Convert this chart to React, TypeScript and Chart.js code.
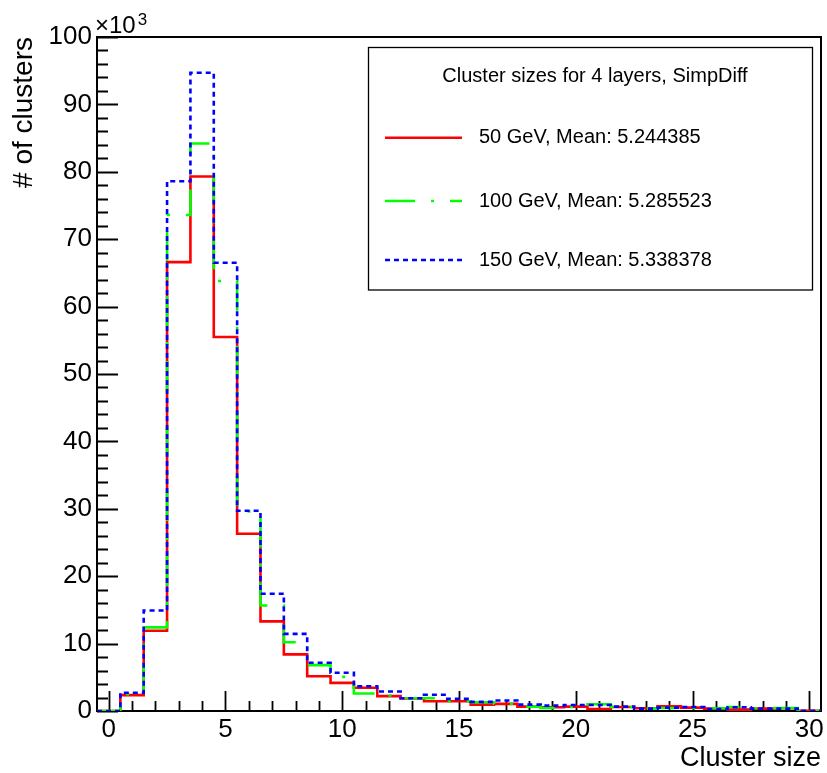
import React, { useEffect, useRef } from 'react';
import { Chart, registerables } from 'chart.js';

Chart.register(...registerables);

// Bin centres (cluster size), bins of width 1
const BIN_CENTERS = [0, 1, 2, 3, 4, 5, 6, 7, 8, 9, 10, 11, 12, 13, 14, 15, 16, 17, 18, 19, 20, 21, 22, 23, 24, 25, 26, 27, 28, 29, 30];
// counts in units of 10^3
const SERIES_50 = [0, 2.35, 11.9, 66.6, 79.3, 55.5, 26.3, 13.3, 8.4, 5.16, 4.18, 3.44, 2.2, 1.85, 1.45, 1.45, 0.95, 1.05, 0.65, 0.55, 0.65, 0.3, 0.6, 0.4, 0.7, 0.5, 0.35, 0.2, 0.35, 0.4, 0.03];
const SERIES_100 = [0, 2.5, 12.4, 73.6, 84.2, 63.8, 29.6, 15.65, 10.2, 6.8, 5.07, 2.6, 2.3, 1.9, 1.9, 1.45, 1.3, 1.05, 0.65, 0.45, 0.6, 1.0, 0.6, 0.35, 0.45, 0.45, 0.4, 0.6, 0.4, 0.45, 0.03];
const SERIES_150 = [0, 2.7, 14.9, 78.6, 94.7, 66.5, 29.7, 17.4, 11.45, 7.15, 5.67, 3.68, 2.9, 1.9, 2.4, 1.8, 1.35, 1.55, 0.95, 0.8, 0.9, 0.9, 0.65, 0.35, 0.5, 0.6, 0.3, 0.55, 0.35, 0.35, 0.03];

const SERIES_LABELS = ['50 GeV, Mean: 5.244385', '100 GeV, Mean: 5.285523', '150 GeV, Mean: 5.338378'];
const LEGEND_TITLE = 'Cluster sizes for 4 layers, SimpDiff';
const X_TITLE = 'Cluster size';
const Y_TITLE = '# of clusters';
const Y_EXPONENT_BASE = '\u00d710';
const Y_EXPONENT = '3';

const X_TICKS = [0, 5, 10, 15, 20, 25, 30];
const Y_TICKS = [0, 10, 20, 30, 40, 50, 60, 70, 80, 90, 100];
const X_MINOR_STEP = 1;
const Y_MINOR_STEP = 2;
const X_RANGE = [-0.5, 30.5];
const Y_RANGE = [0, 100];

const FONT = '"Liberation Sans", Arial, Helvetica, sans-serif';

function histPoints(values: number[]) {
  const pts = values.map((v, i) => ({ x: BIN_CENTERS[i] - 0.5, y: v }));
  const last = values.length - 1;
  pts.push({ x: BIN_CENTERS[last] + 0.5, y: values[last] });
  return pts;
}

const rootFrame = {
  id: 'rootFrame',
  beforeDatasetsDraw(chart: any) {
    const { ctx, chartArea: a, scales } = chart;
    const x = scales.x;
    const y = scales.y;
    ctx.save();
    ctx.strokeStyle = '#000';
    ctx.lineWidth = 2;
    ctx.strokeRect(a.left, a.top, a.right - a.left, a.bottom - a.top);
    ctx.lineWidth = 1.8;
    ctx.beginPath();
    for (let v = X_TICKS[0]; v <= X_TICKS[X_TICKS.length - 1] + 1e-9; v += X_MINOR_STEP) {
      const px = Math.round(x.getPixelForValue(v)) + 0.5;
      const len = X_TICKS.includes(v) ? 20 : 10;
      ctx.moveTo(px, a.bottom);
      ctx.lineTo(px, a.bottom - len);
    }
    for (let v = Y_TICKS[0]; v <= Y_TICKS[Y_TICKS.length - 1] + 1e-9; v += Y_MINOR_STEP) {
      const py = Math.round(y.getPixelForValue(v)) + 0.5;
      const len = Y_TICKS.includes(v) ? 21 : 11;
      ctx.moveTo(a.left, py);
      ctx.lineTo(a.left + len, py);
    }
    ctx.stroke();
    // exponent label
    ctx.fillStyle = '#000';
    ctx.textBaseline = 'alphabetic';
    ctx.textAlign = 'left';
    ctx.font = `24px ${FONT}`;
    ctx.fillText(Y_EXPONENT_BASE, a.left - 2, 33);
    const w = ctx.measureText(Y_EXPONENT_BASE).width;
    ctx.font = `17px ${FONT}`;
    ctx.fillText(Y_EXPONENT, a.left - 2 + w + 2, 25);
    ctx.restore();
  },
  afterDraw(chart: any) {
    const { ctx } = chart;
    ctx.save();
    // legend box
    const bx = 368.5, by = 47.5, bw = 444, bh = 242.5;
    ctx.fillStyle = '#fff';
    ctx.fillRect(bx, by, bw, bh);
    ctx.strokeStyle = '#000';
    ctx.lineWidth = 1.3;
    ctx.strokeRect(bx, by, bw, bh);
    ctx.fillStyle = '#000';
    ctx.textBaseline = 'middle';
    ctx.textAlign = 'center';
    ctx.font = `20px ${FONT}`;
    ctx.fillText(LEGEND_TITLE, 595, 76.5);
    const rows = [137.7, 201, 260];
    chart.data.datasets.forEach((ds: any, i: number) => {
      const yy = rows[i];
      ctx.save();
      ctx.strokeStyle = ds.borderColor;
      ctx.lineWidth = ds.borderWidth;
      ctx.setLineDash(ds.borderDash || []);
      ctx.beginPath();
      ctx.moveTo(385, yy);
      ctx.lineTo(462, yy);
      ctx.stroke();
      ctx.restore();
      ctx.textAlign = 'left';
      ctx.font = `20px ${FONT}`;
      ctx.fillText(ds.label, 479, yy);
    });
    ctx.restore();
  },
};

export default function App() {
  const ref = useRef<HTMLCanvasElement | null>(null);
  useEffect(() => {
    if (!ref.current) return;
    const chart = new Chart(ref.current, {
      type: 'line',
      data: {
        datasets: [
          {
            label: SERIES_LABELS[0],
            data: histPoints(SERIES_50),
            borderColor: 'rgb(255,0,0)',
            borderWidth: 2.6,
            borderDash: [],
            stepped: 'before',
            pointRadius: 0,
            fill: false,
            order: 2,
          },
          {
            label: SERIES_LABELS[1],
            data: histPoints(SERIES_100),
            borderColor: 'rgb(0,255,0)',
            borderWidth: 2.6,
            borderDash: [30, 16, 3, 16],
            stepped: 'before',
            pointRadius: 0,
            fill: false,
            order: 1,
          },
          {
            label: SERIES_LABELS[2],
            data: histPoints(SERIES_150),
            borderColor: 'rgb(0,0,255)',
            borderWidth: 2.6,
            borderDash: [5, 4],
            stepped: 'before',
            pointRadius: 0,
            fill: false,
            order: 0,
          },
        ],
      } as any,
      options: {
        animation: false,
        responsive: false,
        devicePixelRatio: 1,
        parsing: false as any,
        normalized: true,
        layout: { padding: { left: 0, top: 37, right: 6, bottom: 0 } },
        plugins: {
          legend: { display: false },
          tooltip: { enabled: false },
        },
        scales: {
          x: {
            type: 'linear',
            min: X_RANGE[0],
            max: X_RANGE[1],
            afterBuildTicks: (s: any) => {
              s.ticks = X_TICKS.map((v) => ({ value: v }));
            },
            afterFit: (s: any) => {
              s.height = 62;
            },
            grid: { display: false, drawTicks: false },
            border: { display: false },
            ticks: {
              color: '#000',
              font: { family: FONT, size: 26 },
              padding: 3,
              maxRotation: 0,
              autoSkip: false,
              callback: (v: any) => String(v),
            },
            title: {
              display: true,
              text: X_TITLE,
              align: 'end',
              color: '#000',
              font: { family: FONT, size: 27, lineHeight: 1 },
              padding: { top: 0, bottom: 1 },
            },
          },
          y: {
            type: 'linear',
            min: Y_RANGE[0],
            max: Y_RANGE[1],
            afterBuildTicks: (s: any) => {
              s.ticks = Y_TICKS.map((v) => ({ value: v }));
            },
            afterFit: (s: any) => {
              s.width = 97;
            },
            grid: { display: false, drawTicks: false },
            border: { display: false },
            ticks: {
              color: '#000',
              font: { family: FONT, size: 26 },
              padding: 5,
              autoSkip: false,
              callback: (v: any) => String(v),
            },
            title: {
              display: true,
              text: Y_TITLE,
              align: 'end',
              color: '#000',
              font: { family: FONT, size: 28, lineHeight: 1.2 },
              padding: { top: 7, bottom: 0 },
            },
          },
        },
      } as any,
      plugins: [rootFrame],
    });
    return () => chart.destroy();
  }, []);
  return (
    <div style={{ position: 'absolute', left: 0, top: 0, width: 827, height: 773, background: '#fff' }}>
      <canvas ref={ref} width={827} height={773} style={{ width: 827, height: 773, display: 'block' }} />
    </div>
  );
}
